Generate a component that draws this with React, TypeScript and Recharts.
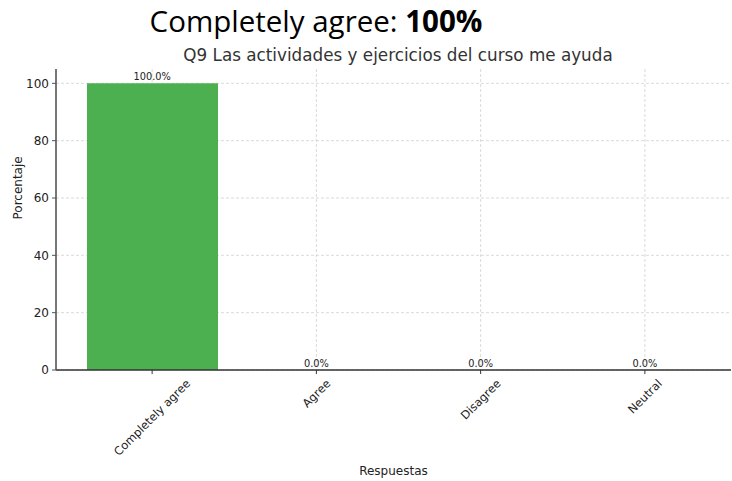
import React from 'react'
import { ComposedChart, Bar, Line, XAxis, YAxis, CartesianGrid, LabelList } from 'recharts'

const categories = ['Completely agree', 'Agree', 'Disagree', 'Neutral']
const percentages = [100, 0, 0, 0]
const yTicks = [0, 20, 40, 60, 80, 100]

const chartData = categories.map((name, i) => ({ name, value: percentages[i] }))

const FONT = '"DejaVu Sans", sans-serif'
const INK = '#222'
const SPINE = '#555'
const TICK_FONT = 11.5

let ctx: CanvasRenderingContext2D | null = null
function textWidth(s: string, size: number) {
  if (!ctx) ctx = document.createElement('canvas').getContext('2d')
  if (!ctx) return s.length * size * 0.6
  ctx.font = `${size}px "DejaVu Sans"`
  return ctx.measureText(s).width
}

// matplotlib style: rotated label, its box centred under the tick
function SlantedTick({ x, y, payload }: any) {
  const w = textWidth(String(payload.value), TICK_FONT)
  const half = ((w + TICK_FONT * 1.1) * Math.SQRT1_2) / 2
  const cy = y + 1 + half
  return (
    <text
      x={x}
      y={cy}
      transform={`rotate(-45, ${x}, ${cy})`}
      textAnchor="middle"
      dominantBaseline="central"
      fontSize={TICK_FONT}
      fontFamily={FONT}
      fill={INK}
    >
      {payload.value}
    </text>
  )
}

export default function App() {
  return (
    <div style={{ position: 'absolute', left: 0, top: 0, width: 732, height: 481, background: '#fff' }}>
      <div
        style={{
          position: 'absolute',
          left: 0,
          width: 632,
          top: 0,
          textAlign: 'center',
          fontFamily: '"Open Sans", "Noto Sans", sans-serif',
          fontSize: 29.5,
          color: '#000',
          whiteSpace: 'nowrap',
        }}
      >
        Completely agree: <b>100%</b>
      </div>
      <div
        style={{
          position: 'absolute',
          left: 0,
          width: 796,
          top: 45,
          textAlign: 'center',
          fontFamily: FONT,
          fontSize: 16.8,
          color: '#333',
          whiteSpace: 'nowrap',
        }}
      >
        Q9 Las actividades y ejercicios del curso me ayuda
      </div>
      <ComposedChart
        width={732}
        height={481}
        data={chartData}
        margin={{ top: 69, right: 1, bottom: 0, left: 0 }}
        style={{ position: 'absolute', left: 0, top: 0 }}
      >
        <XAxis
          dataKey="name"
          height={111}
          padding={{ left: 14, right: 4 }}
          tick={<SlantedTick />}
          tickSize={4}
          axisLine={{ stroke: '#333', strokeWidth: 1.3 }}
          tickLine={{ stroke: '#333' }}
          interval={0}
          label={{ value: 'Respuestas', position: 'insideBottom', offset: 6, fontSize: 12, fontFamily: FONT, fill: INK }}
        />
        <YAxis
          width={56}
          domain={[0, 105]}
          ticks={yTicks}
          tickSize={4}
          tickMargin={3}
          tick={{ fontSize: 12, fontFamily: FONT, fill: INK }}
          axisLine={{ stroke: SPINE, strokeWidth: 1.6 }}
          tickLine={{ stroke: SPINE }}
          label={{ value: 'Porcentaje', angle: -90, position: 'insideLeft', offset: 18, fontSize: 12, fontFamily: FONT, fill: INK }}
        />
        <Bar dataKey="value" fill="#4caf50" barSize={131} isAnimationActive={false} />
        <Line dataKey="value" stroke="none" dot={false} activeDot={false} isAnimationActive={false}>
          <LabelList
            dataKey="value"
            position="top"
            offset={3}
            formatter={(v: any) => `${Number(v).toFixed(1)}%`}
            fontSize={9.8}
            fontFamily={FONT}
            fill={INK}
          />
        </Line>
        <CartesianGrid
          stroke="#d0d0d0"
          strokeDasharray="3 2"
          strokeWidth={0.8}
          horizontalValues={yTicks}
          verticalValues={categories}
        />
      </ComposedChart>
    </div>
  )
}
